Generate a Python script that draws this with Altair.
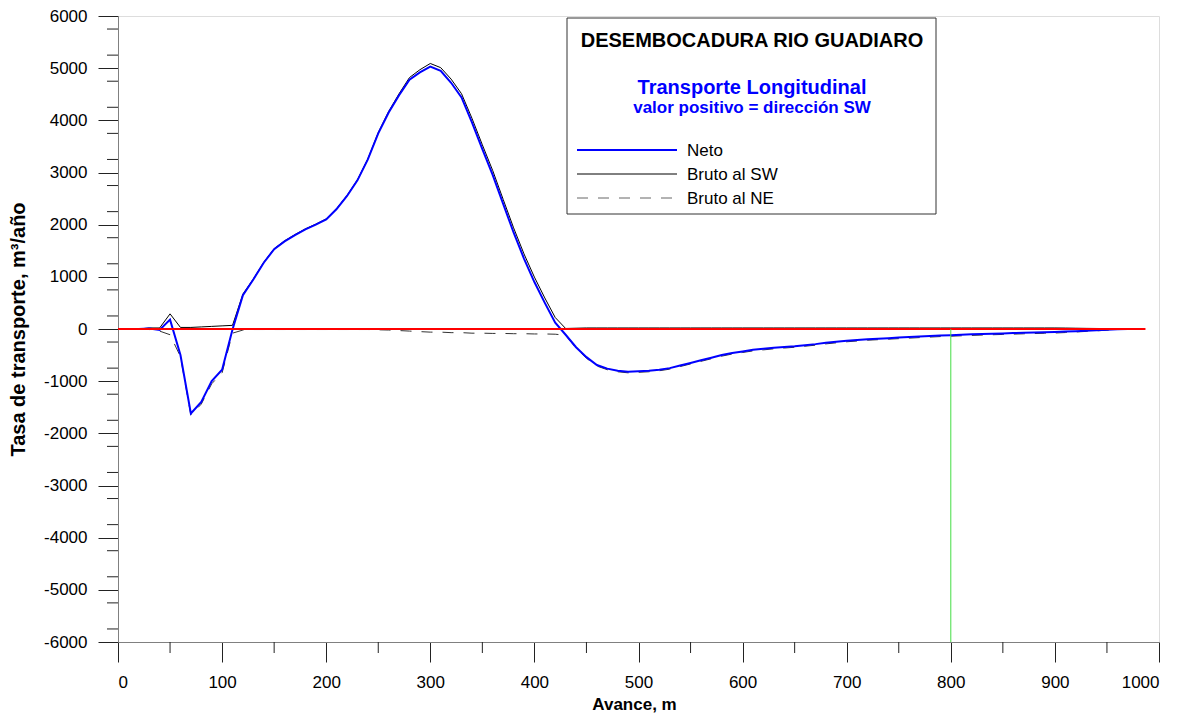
import altair as alt
import pandas as pd

# ---------------- data ----------------
avance = list(range(0, 971, 10))

neto = [0, 0, 0, 10, -20, 180, -500, -1620, -1400, -1000,
        -780, -10, 650, 950, 1270, 1530, 1680, 1800, 1910, 2000,
        2100, 2300, 2550, 2850, 3250, 3750, 4150, 4480, 4780, 4920,
        5030, 4950, 4720, 4440, 3960, 3450, 2950, 2400, 1850, 1350,
        900, 500, 120, -110, -350, -540, -690, -760, -800, -820,
        -810, -800, -780, -750, -700, -650, -600, -550, -500, -460,
        -430, -400, -380, -360, -345, -330, -310, -290, -265, -245,
        -225, -210, -195, -185, -175, -165, -155, -145, -135, -125,
        -118, -110, -103, -96, -90, -84, -78, -72, -67, -62,
        -57, -50, -42, -34, -25, -15, -5, 0]

bruto_sw = [0, 0, 0, 20, 20, 290, 30, 30, 40, 50,
            60, 70, 670, 960, 1280, 1540, 1690, 1810, 1920, 2010,
            2110, 2310, 2560, 2860, 3260, 3765, 4170, 4510, 4820, 4970,
            5090, 5010, 4790, 4510, 4040, 3530, 3035, 2485, 1940, 1440,
            995, 595, 220, 10, 15, 20, 20, 20, 20, 20,
            20, 20, 20, 20, 20, 20, 20, 20, 20, 20,
            20, 20, 20, 20, 20, 20, 20, 20, 20, 20,
            20, 20, 20, 20, 20, 20, 20, 20, 20, 20,
            20, 20, 20, 20, 20, 20, 20, 20, 20, 20,
            20, 18, 15, 12, 10, 8, 5, 0]

bruto_ne = [0, 0, 0, -10, -40, -110, -530, -1650, -1440, -1050,
            -840, -80, -20, -10, -10, -10, -10, -10, -10, -10,
            -10, -10, -10, -10, -10, -15, -20, -30, -40, -50,
            -60, -60, -70, -70, -80, -80, -85, -85, -90, -90,
            -95, -95, -100, -120, -365, -560, -710, -780, -820, -840,
            -830, -820, -800, -770, -720, -670, -620, -570, -520, -480,
            -450, -420, -400, -380, -365, -350, -330, -310, -285, -265,
            -245, -230, -215, -205, -195, -185, -175, -165, -155, -145,
            -138, -130, -123, -116, -110, -104, -98, -92, -87, -82,
            -77, -68, -57, -46, -35, -23, -10, 0]

x_major = list(range(0, 1001, 100))
x_minor = list(range(50, 1000, 100))
y_major = list(range(-6000, 6001, 500))
y_minor = list(range(-5750, 6000, 500))

zero_line_x = [0, 987]
green_x = [800]
green_y = [0, -6000]

titulo = "DESEMBOCADURA RIO GUADIARO"
subtitulo1 = "Transporte Longitudinal"
subtitulo2 = "valor positivo = dirección SW"
series_names = ["Neto", "Bruto al SW", "Bruto al NE"]

FONT = "Liberation Sans"
W, H = 1041, 626

df = pd.DataFrame({"x": avance, "neto": neto, "sw": bruto_sw, "ne": bruto_ne})

xscale = alt.Scale(domain=[0, 1000], nice=False, zero=False)
yscale = alt.Scale(domain=[-6000, 6000], nice=False, zero=False)

xaxis = alt.Axis(values=x_major, labelExpr="'' + datum.value", tickSize=20,
                 tickColor="#222222", domainColor="#808080", labelFontSize=17,
                 labelFont=FONT, labelColor="black", labelPadding=12, grid=False,
                 title="Avance, m", titleFont=FONT, titleFontSize=17,
                 titleFontWeight="bold", titleColor="black",
                 titleX=516, titleY=62, titleBaseline="middle", titleAlign="center")
yaxis = alt.Axis(values=y_major, labelExpr="'' + datum.value", tickSize=20,
                 tickColor="#222222", domainColor="#808080", labelFontSize=17,
                 labelFont=FONT, labelColor="black", labelPadding=11, grid=False,
                 title="Tasa de transporte, m³/año", titleFont=FONT,
                 titleFontSize=20, titleFontWeight="bold", titleColor="black",
                 titleAngle=-90, titleX=-100, titleY=313,
                 titleBaseline="middle", titleAlign="center")

base = alt.Chart(df)

ne_line = base.mark_line(color="#333333", strokeWidth=1, strokeDash=[11, 10]).encode(
    x=alt.X("x:Q", scale=xscale, axis=xaxis),
    y=alt.Y("ne:Q", scale=yscale, axis=yaxis),
)
sw_line = base.mark_line(color="black", strokeWidth=1).encode(
    x=alt.X("x:Q", scale=xscale), y=alt.Y("sw:Q", scale=yscale))
neto_line = base.mark_line(color="#0000FF", strokeWidth=2).encode(
    x=alt.X("x:Q", scale=xscale), y=alt.Y("neto:Q", scale=yscale))

red = alt.Chart(pd.DataFrame({"x": zero_line_x, "y": [0, 0]})).mark_line(
    color="#FF0000", strokeWidth=2).encode(
    x=alt.X("x:Q", scale=xscale), y=alt.Y("y:Q", scale=yscale))

green = alt.Chart(pd.DataFrame({"x": green_x, "y": [green_y[0]], "y2": [green_y[1]]})).mark_rule(
    color="#44DD44", strokeWidth=1).encode(
    x=alt.X("x:Q", scale=xscale), y=alt.Y("y:Q", scale=yscale), y2="y2:Q")

minor_x = alt.Chart(pd.DataFrame({"x": x_minor})).mark_rule(
    color="#222222", strokeWidth=1).encode(
    x=alt.X("x:Q", scale=xscale), y=alt.value(H), y2=alt.value(H + 11))
minor_y = alt.Chart(pd.DataFrame({"y": y_minor})).mark_rule(
    color="#222222", strokeWidth=1).encode(
    y=alt.Y("y:Q", scale=yscale), x=alt.value(-11), x2=alt.value(0))

one = pd.DataFrame({"a": [0]})
box = alt.Chart(one).mark_rect(fill="white", stroke="#333333", strokeWidth=1).encode(
    x=alt.value(449), x2=alt.value(818), y=alt.value(2), y2=alt.value(198))

def txt(s, x, y, size, color="black", bold=False, align="center"):
    return alt.Chart(one).mark_text(
        text=s, font=FONT, fontSize=size, color=color,
        fontWeight="bold" if bold else "normal", align=align,
        baseline="alphabetic").encode(x=alt.value(x), y=alt.value(y))

t1 = txt(titulo, 634, 31, 20, bold=True)
t2 = txt(subtitulo1, 634, 78, 20, color="#0000FF", bold=True)
t3 = txt(subtitulo2, 634, 97, 17, color="#0000FF", bold=True)

leg_neto = alt.Chart(one).mark_rule(color="#0000FF", strokeWidth=2).encode(
    x=alt.value(459), x2=alt.value(559), y=alt.value(134))
leg_sw = alt.Chart(one).mark_rule(color="black", strokeWidth=1).encode(
    x=alt.value(459), x2=alt.value(559), y=alt.value(158))
leg_ne = alt.Chart(one).mark_rule(color="#666666", strokeWidth=1, strokeDash=[11, 10]).encode(
    x=alt.value(459), x2=alt.value(559), y=alt.value(182))
l1 = txt(series_names[0], 569, 140, 17, align="left")
l2 = txt(series_names[1], 569, 164, 17, align="left")
l3 = txt(series_names[2], 569, 188, 17, align="left")

chart = alt.layer(
    ne_line, sw_line, neto_line, red, green, minor_x, minor_y,
    box, t1, t2, t3, leg_neto, leg_sw, leg_ne, l1, l2, l3
).properties(
    width=W, height=H,
    autosize=alt.AutoSizeParams(type="none"),
    padding={"left": 110, "top": 8, "right": 20, "bottom": 74},
    background="white",
).configure_view(stroke=None).configure(font=FONT)

chart.save("out.html", embed_options={"renderer": "svg", "actions": False})
